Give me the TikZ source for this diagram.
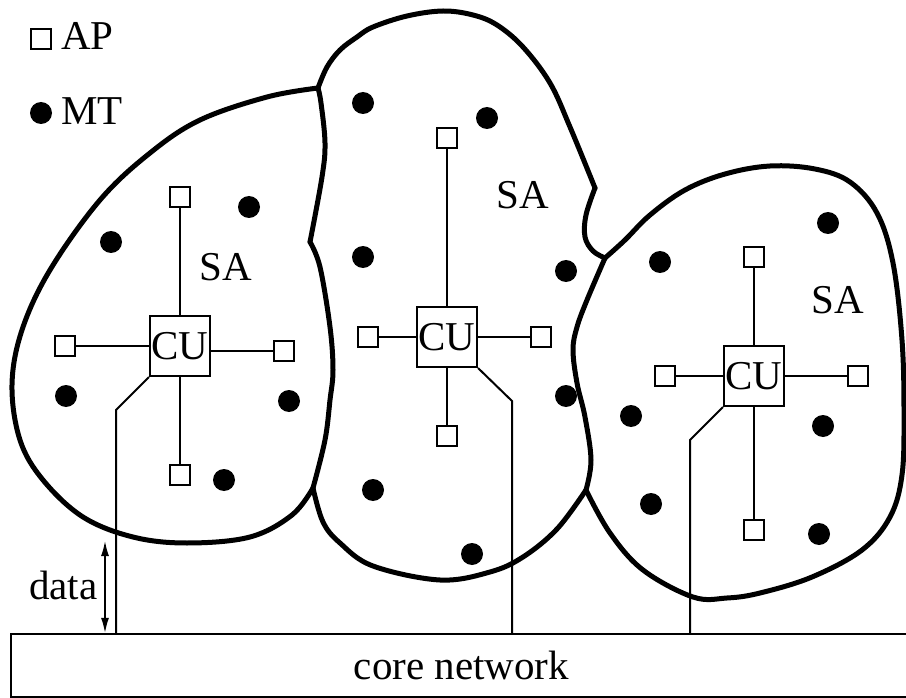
\documentclass[tikz,border=0pt]{standalone}
\usepackage{fontspec}
\setmainfont{Liberation Serif}
\usetikzlibrary{arrows.meta}
\begin{document}
\begin{tikzpicture}[x=1pt, y=-1pt,
  every node/.style={font=\fontsize{41}{49}\selectfont},
  blob/.style={line width=5pt, line cap=round, line join=round},
  wire/.style={line width=2pt},
  apbox/.style={draw, line width=2.2pt, minimum size=20pt, inner sep=0pt},
  cubox/.style={draw, line width=2.2pt, minimum size=60pt, inner sep=0pt},
  mt/.style={circle, fill=black, minimum size=22pt, inner sep=0pt},
  lbl/.style={anchor=base, inner sep=0pt}]

\useasboundingbox (0,0) rectangle (906,698);

% legend
\node[apbox] (legap) at (41,39) {};
\node[anchor=base west, inner sep=0pt] (legaptxt) at (61,50) {AP};
\node[mt] (legmt) at (41,113) {};
\node[anchor=base west, inner sep=0pt] (legmttxt) at (61,125) {MT};

% core network
\node[draw, line width=2.2pt, minimum width=901pt, minimum height=63pt, inner sep=0pt]
  (core) at (461.5,665.5) {core network};

% service areas: outlines split at the points where they meet
\begin{scope}[blob]
  % left area, outer boundary
  \draw plot[smooth, tension=0.6] coordinates {(318,88) (267,97) (200,120) (150,153)
    (100,200) (50,270) (22,330) (12,385) (20,440) (43,480) (83,517) (133,537)
    (187,543) (250,537) (292,515) (313,488)};
  % boundary between left and middle areas
  \draw plot[smooth, tension=0.6] coordinates {(318,88) (321,103) (325,143) (322,177) (310,242)};
  \draw plot[smooth, tension=0.6] coordinates {(310,242) (320,267) (330,327) (333,370)
    (330,400) (325,440) (313,488)};
  % middle area, top
  \draw plot[smooth, tension=0.6] coordinates {(318,88) (327,67) (340,50) (357,37)
    (373,27) (407,16) (443,11) (473,15) (497,25) (523,47) (550,83) (570,127) (595,188)};
  % notch between middle and right areas
  \draw plot[smooth, tension=0.6] coordinates {(595,188) (586,215) (585,237) (593,251)
    (605,258)};
  % middle area, bottom
  \draw plot[smooth, tension=0.6] coordinates {(313,488) (323,522) (340,543) (373,566)
    (440,580) (490,572) (523,557) (557,529) (586,490)};
  % boundary between middle and right areas
  \draw plot[smooth, tension=0.6] coordinates {(605,258) (587,300) (577,327) (573,350)
    (577,383) (585,417) (591,460) (586,490)};
  % right area, outer boundary
  \draw plot[smooth, tension=0.6] coordinates {(605,258) (625,240) (650,215) (685,190)
    (725,174) (770,166) (815,169) (850,182) (877,213) (893,263) (902,340) (904,413)
    (902,475) (890,517) (862,550) (812,577) (760,593) (727,598) (693,597) (643,570)
    (610,533) (586,490)};
\end{scope}

% central units
\node[cubox] (cu1) at (180,346) {CU};
\node[cubox] (cu2) at (447,337) {CU};
\node[cubox] (cu3) at (754,376) {CU};

% access points
\node[apbox] (ap1t) at (180,197) {};
\node[apbox] (ap1b) at (180,475) {};
\node[apbox] (ap1l) at (65,346) {};
\node[apbox] (ap1r) at (284,351) {};
\node[apbox] (ap2t) at (447,138) {};
\node[apbox] (ap2b) at (447,436) {};
\node[apbox] (ap2l) at (368,337) {};
\node[apbox] (ap2r) at (541,337) {};
\node[apbox] (ap3t) at (754,257) {};
\node[apbox] (ap3b) at (754,530) {};
\node[apbox] (ap3l) at (665,376) {};
\node[apbox] (ap3r) at (858,376) {};

\begin{scope}[wire]
  \draw (ap1t) -- (cu1);
  \draw (ap1b) -- (cu1);
  \draw (ap1l) -- (cu1);
  \draw (ap1r.west) -- (ap1r.west -| cu1.east);
  \draw (ap2t) -- (cu2);
  \draw (ap2b) -- (cu2);
  \draw (ap2l) -- (cu2);
  \draw (ap2r) -- (cu2);
  \draw (ap3t) -- (cu3);
  \draw (ap3b) -- (cu3);
  \draw (ap3l) -- (cu3);
  \draw (ap3r) -- (cu3);
  % links to the core network
  \coordinate (k1) at (116,410);
  \coordinate (k2) at (512,401);
  \coordinate (k3) at (690,440);
  \draw (cu1.south west) -- (k1) -- (k1 |- core.north);
  \draw (cu2.south east) -- (k2) -- (k2 |- core.north);
  \draw (cu3.south west) -- (k3) -- (k3 |- core.north);
\end{scope}

% mobile terminals
\foreach [count=\i] \p in {(111,242), (249,207), (66,396), (289,401), (224,480),
  (363,103), (487,118), (363,257), (566,271), (566,396), (373,490), (472,554),
  (828,223), (660,262), (631,416), (823,426), (651,504), (819,534)}
  \node[mt] (mt\i) at \p {};

% area labels
\node[lbl] (sa1) at (226,280) {SA};
\node[lbl] (sa2) at (523,209) {SA};
\node[lbl] (sa3) at (838,313) {SA};

% data arrow
\coordinate (dtop) at (105,541);
\draw[line width=1.5pt, {Latex[length=15pt,width=8pt]}-{Latex[length=15pt,width=8pt]}]
  (dtop) -- (dtop |- core.north);
\node[anchor=base west, inner sep=0pt] (datatxt) at (29,599) {data};
\end{tikzpicture}
\end{document}
